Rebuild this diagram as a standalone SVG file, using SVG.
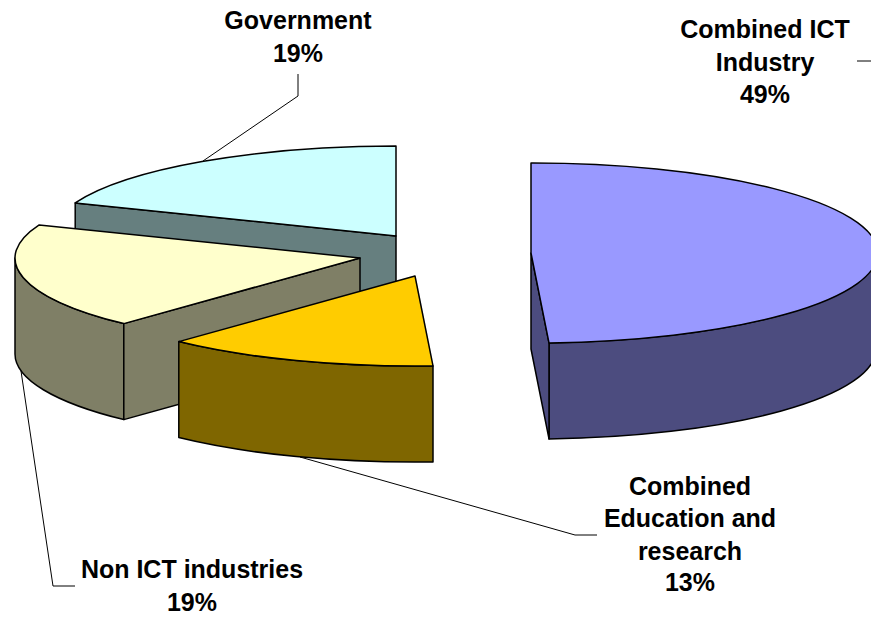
<svg xmlns="http://www.w3.org/2000/svg" width="871" height="617" viewBox="0 0 871 617">
<style>
.face{stroke:#000;stroke-width:1.5;stroke-linejoin:round}
.lbl{font-family:"Liberation Sans",Arial,sans-serif;font-weight:bold;font-size:25px;fill:#000;text-anchor:middle}
.lead{fill:none;stroke:#000;stroke-width:1}
</style>
<rect width="871" height="617" fill="#fff"/>
<g id="government">
<path class="face" fill="#667F7F" d="M396,236 L75.2,202.9 L75.2,298.9 L396,332 Z"/>
<path class="face" fill="#CCFFFF" d="M396,236 L75.2,202.9 A345,90 0 0 1 396,146 Z"/>
</g>
<g id="non-ict">
<path class="face" fill="#7F7F66" d="M123.8,323.6 A345,90 0 0 1 15,258 L15,354 A345,90 0 0 0 123.8,419.6 Z"/>
<path class="face" fill="#7F7F66" d="M360,258 L123.8,323.6 L123.8,419.6 L360,354 Z"/>
<path class="face" fill="#FFFFCC" d="M360,258 L123.8,323.6 A345,90 0 0 1 39.2,224.9 Z"/>
</g>
<g id="education">
<path class="face" fill="#7F6600" d="M433,365.9 A345,90 0 0 1 178.8,341.6 L178.8,437.6 A345,90 0 0 0 433,461.9 Z"/>
<path class="face" fill="#FFCC00" d="M415,276 L433,365.9 A345,90 0 0 1 178.8,341.6 Z"/>
</g>
<g id="ict">
<path class="face" fill="#4C4C7F" d="M876,253 A345,90 0 0 1 549,342.9 L549,438.9 A345,90 0 0 0 876,349 Z"/>
<path class="face" fill="#4C4C7F" d="M531,253 L549,342.9 L549,438.9 L531,349 Z"/>
<path class="face" fill="#9999FF" d="M531,253 L531,163 A345,90 0 0 1 549,342.9 Z"/>
</g>
<g id="connectors">
<polyline class="lead" points="298,74 298,96 203,161"/>
<polyline class="lead" points="857,61 871,61"/>
<polyline class="lead" points="597,535 575,535 300,457"/>
<polyline class="lead" points="75,586 53,586 21,371"/>
</g>
<g id="labels">
<text class="lbl" x="298" y="29">Government</text>
<text class="lbl" x="298" y="62">19%</text>
<text class="lbl" x="765" y="38">Combined ICT</text>
<text class="lbl" x="765" y="71">Industry</text>
<text class="lbl" x="765" y="103">49%</text>
<text class="lbl" x="690" y="495">Combined</text>
<text class="lbl" x="690" y="527">Education and</text>
<text class="lbl" x="690" y="560">research</text>
<text class="lbl" x="690" y="591">13%</text>
<text class="lbl" x="192" y="578">Non ICT industries</text>
<text class="lbl" x="192" y="611">19%</text>
</g>
</svg>
